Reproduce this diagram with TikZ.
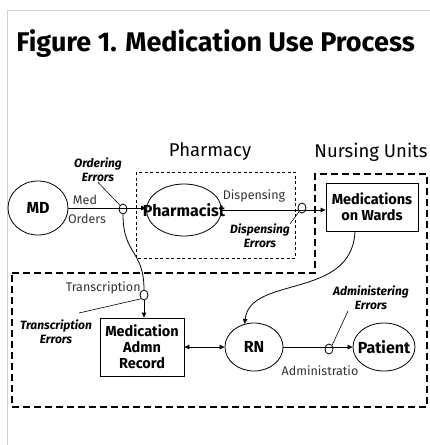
\documentclass[tikz,border=0pt]{standalone}
\usepackage{fontspec}
\setmainfont{Fira Sans}
\usetikzlibrary{positioning}
\usetikzlibrary{arrows.meta,shapes.geometric}

\tikzset{
  actor/.style={draw, ellipse, inner sep=0pt,
    label={[font=\bfseries\fontsize{16}{18}\selectfont, inner sep=0pt]center:#1}},
  store/.style={draw, rectangle, align=center, inner sep=0pt, font=\bfseries\fontsize{14.5}{16}\selectfont},
  flow/.style={-{Triangle[length=5pt,width=4.5pt]}},
  errmark/.style={draw, ellipse, minimum width=8pt, minimum height=10pt, inner sep=0pt},
  errlabel/.style={align=center, inner sep=0pt, font=\bfseries\itshape\fontsize{12}{14}\selectfont},
  steplabel/.style={inner sep=0pt, text=black!80, font=\fontsize{12.5}{13}\selectfont},
  area/.style={inner sep=0pt, font=\fontsize{18.5}{20}\selectfont},
  pharmbox/.style={line width=0.9pt, dash pattern=on 3pt off 2.5pt},
  wardbox/.style={line width=2.2pt, dash pattern=on 7pt off 4pt},
}

\begin{document}
\begin{tikzpicture}[x=1pt, y=-1pt, line width=0.8pt]
  \useasboundingbox (0,0) rectangle (430,445);
  \draw[black!18, line width=1pt] (7,445) -- (7,10) -- (430,10);

  \node[anchor=west, inner sep=0pt, font=\bfseries\fontsize{27}{30}\selectfont] (title) at (16,44) {Figure 1. Medication Use Process};

  % areas
  \draw[pharmbox] (136,172) rectangle (295,258);
  \draw[wardbox] (12,273) -- (315,273) -- (315,174) -- (427,174) -- (427,407) -- (12,407) -- cycle;
  \node[area] (pharmlbl) at (210,152) {Pharmacy};
  \node[area] (nurslbl) at (371,152) {Nursing Units};

  % actors and records
  \node[actor=MD, minimum width=60pt, minimum height=54pt] (md) at (38,208) {};
  \node[actor=Pharmacist, minimum width=75pt, minimum height=52pt] (ph) at (184,210) {};
  \node[store, minimum width=92pt, minimum height=48pt] (meds) at (372,207) {Medications\\on Wards};
  \node[store, minimum width=84pt, minimum height=58pt] (mar) at (142,347) {Medication\\Admn\\Record};
  \node[actor=RN, minimum width=58pt, minimum height=48pt] (rn) at (254,347) {};
  \node[actor=Patient, minimum width=62pt, minimum height=48pt] (pt) at (384,347) {};

  % error points
  \node[errmark] (oe) at (123,209) {};
  \node[errmark] (de) at (302,208) {};
  \node[errmark] (te) at (144,295) {};
  \node[errmark] (ae) at (329,349) {};

  \draw[flow] (md.east) -- (md.east -| ph.west);
  \draw[flow] (ph.east) -- (ph.east -| meds.west);
  \draw[flow] (rn) -- (pt);
  \draw[{Triangle[length=5pt,width=4.5pt]}-{Triangle[length=5pt,width=4.5pt]}] (mar) -- (rn);
  \draw (oe.south) .. controls (123,255) and (144,250) .. (te.north);
  \draw[flow] (te.south) -- (te.south |- mar.north);
  \draw[flow] ([xshift=-17pt]meds.south) .. controls (352,300) and (250,275) .. (rn.112);

  % step labels
  \node[steplabel] (medlbl) at (85,200) {Med};
  \node[steplabel] (ordlbl) at (87,219) {Orders};
  \node[steplabel] (displbl) at (254,196) {Dispensing};
  \node[steplabel, anchor=east] (trlbl) at (141,288) {Transcription};
  \node[steplabel] (admlbl) at (320,371) {Administratio};

  % error labels
  \node[errlabel] (oelbl) at (98,170) {Ordering\\Errors};
  \node[errlabel] (delbl) at (260,236) {Dispensing\\Errors};
  \node[errlabel] (telbl) at (56,332) {Transcription\\Errors};
  \node[errlabel] (aelbl) at (371,298) {Administering\\Errors};
  \coordinate (telead) at (79,313);
  \coordinate (aelead) at (348,311);
  \draw[line width=0.6pt] (oelbl.south) -- (oe.north west);
  \draw[line width=0.6pt] (delbl.north east) -- (de.south west);
  \draw[line width=0.6pt] (telead) -- (te.south west);
  \draw[line width=0.6pt] (aelead) -- (ae.north east);
\end{tikzpicture}
\end{document}
